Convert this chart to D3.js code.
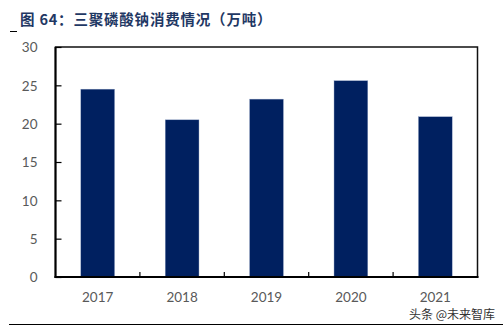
<!DOCTYPE html>
<html><head><meta charset="utf-8">
<script src="https://cdn.jsdelivr.net/npm/d3@7/dist/d3.min.js"></script>
<style>body{margin:0;background:#fff}svg{display:block}</style>
</head><body><svg id="c" width="503" height="329"></svg>
<script>
const years = ["2017","2018","2019","2020","2021"];
const consumption = [24.5, 20.5, 23.2, 25.6, 20.9];
const yTicks = [0,5,10,15,20,25,30];
const titleText = "图 64：三聚磷酸钠消费情况（万吨）";
const watermark = "头条 @未来智库";

const svg = d3.select("#c");
const L = 55.5, R = 477.5, T = 47, B = 277;
const x = d3.scaleBand().domain(years).range([L, R]).paddingInner(0.6).paddingOuter(0.3);
const xb = d3.scaleBand().domain(years).range([L, R]);
const y = d3.scaleLinear().domain([0, 30]).range([B, T]);
const font = "Lato, 'Open Sans', sans-serif";
const lab = "#595959";

// title
svg.append("line").attr("x1", 10).attr("x2", 17).attr("y1", 31.5).attr("y2", 31.5).attr("stroke", "#000").attr("stroke-width", 1);
svg.append("text").attr("x", 20).attr("y", 25).text(titleText)
  .attr("font-family", "'Noto Sans CJK SC', sans-serif").attr("font-weight", "bold")
  .attr("font-size", 14.5).attr("letter-spacing", 0.8).attr("fill", "#1F3864");

// bars
svg.append("g").selectAll("rect").data(years).join("rect")
  .attr("x", d => x(d)).attr("width", x.bandwidth())
  .attr("y", (d, i) => y(consumption[i])).attr("height", (d, i) => B - y(consumption[i]))
  .attr("fill", "#002060").attr("stroke", "#8ea0c4").attr("stroke-width", 0.4);

// frame
svg.append("rect").attr("x", L).attr("y", T).attr("width", R - L).attr("height", B - T)
  .attr("fill", "none").attr("stroke", "#111").attr("stroke-width", 1.5);
svg.append("line").attr("x1", L).attr("x2", L).attr("y1", T).attr("y2", B + 1).attr("stroke", "#000").attr("stroke-width", 2);
svg.append("line").attr("x1", L - 1).attr("x2", R + 1).attr("y1", B).attr("y2", B).attr("stroke", "#000").attr("stroke-width", 2);

// y axis
const ya = d3.axisLeft(y).tickValues(yTicks).tickSize(-6).tickPadding(18);
const yg = svg.append("g").attr("transform", `translate(${L},0)`).call(ya);
yg.select(".domain").remove();
yg.selectAll("line").attr("stroke", "#000").attr("stroke-width", 1.2);
yg.selectAll("text").attr("font-family", font).attr("font-size", 13.5).attr("fill", lab).attr("dy", "0.36em");

// x axis ticks at category boundaries
const bounds = years.slice(1).map(d => xb(d));
svg.append("g").selectAll("line").data(bounds).join("line")
  .attr("x1", d => d).attr("x2", d => d).attr("y1", B).attr("y2", B - 5)
  .attr("stroke", "#000").attr("stroke-width", 1.2);
svg.append("g").selectAll("text").data(years).join("text")
  .attr("x", d => xb(d) + xb.bandwidth() / 2).attr("y", 302).attr("text-anchor", "middle")
  .attr("font-family", font).attr("font-size", 13.5).attr("fill", lab).text(d => d);

// watermark and bottom rule
svg.append("text").attr("x", 495).attr("y", 319).attr("text-anchor", "end").text(watermark)
  .attr("font-family", "'Noto Sans CJK SC', sans-serif").attr("font-size", 12).attr("fill", "#333");
svg.append("line").attr("x1", 9).attr("x2", 503).attr("y1", 324.5).attr("y2", 324.5).attr("stroke", "#000").attr("stroke-width", 1);
</script></body></html>
